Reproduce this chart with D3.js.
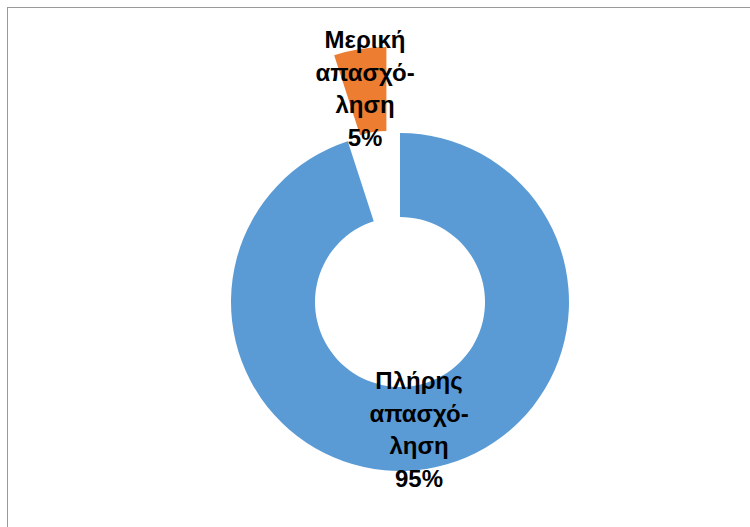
<!DOCTYPE html>
<html>
<head>
<meta charset="utf-8">
<script src="https://cdn.jsdelivr.net/npm/d3@7"></script>
<style>
  html, body { margin: 0; padding: 0; background: #fff; }
  svg { display: block; }
</style>
</head>
<body>
<svg id="chart" width="750" height="527"></svg>
<script>
const categories = ["Πλήρης απασχόληση", "Μερική απασχόληση"];
const values = [95, 5];
const colors = ["#5B9BD5", "#ED7D31"];
const labelLines = [
  ["Πλήρης", "απασχό-", "ληση", "95%"],
  ["Μερική", "απασχό-", "ληση", "5%"]
];
const exploded = [0, 1];

const svg = d3.select("#chart");
const W = 750, H = 527;

// chart area border
svg.append("rect")
  .attr("x", 7.5).attr("y", 7.5)
  .attr("width", W + 10).attr("height", H + 10)
  .attr("fill", "#fff")
  .attr("stroke", "#9a9a9a")
  .attr("stroke-width", 1);

const cx = 400, cy = 302;
const outerR = 169, innerR = 85;
const explodeDist = 87;

const pie = d3.pie().sort(null).value(d => d.value);
const data = categories.map((c, i) => ({ name: c, value: values[i], color: colors[i], lines: labelLines[i], exploded: exploded[i] }));
const arcs = pie(data);
const arc = d3.arc().innerRadius(innerR).outerRadius(outerR);

const g = svg.append("g").attr("transform", `translate(${cx},${cy})`);

g.selectAll("path.slice")
  .data(arcs)
  .enter()
  .append("path")
  .attr("class", "slice")
  .attr("d", arc)
  .attr("fill", d => d.data.color)
  .attr("transform", d => {
    if (!d.data.exploded) return null;
    const mid = (d.startAngle + d.endAngle) / 2;
    return `translate(${explodeDist * Math.sin(mid)},${-explodeDist * Math.cos(mid)})`;
  });

// label anchors (first baseline) relative to centre
const labelPos = [
  { x: 19, y: 87 },   // full-time
  { x: -35, y: -254 } // part-time
];
const lineH = 32.7;

arcs.forEach((d, i) => {
  const t = g.append("text")
    .attr("text-anchor", "middle")
    .attr("font-family", "'Liberation Sans', Arial, sans-serif")
    .attr("font-weight", "bold")
    .attr("font-size", 24)
    .attr("fill", "#000");
  d.data.lines.forEach((ln, k) => {
    t.append("tspan")
      .attr("x", labelPos[i].x)
      .attr("y", labelPos[i].y + k * lineH)
      .text(ln);
  });
});
</script>
</body>
</html>
